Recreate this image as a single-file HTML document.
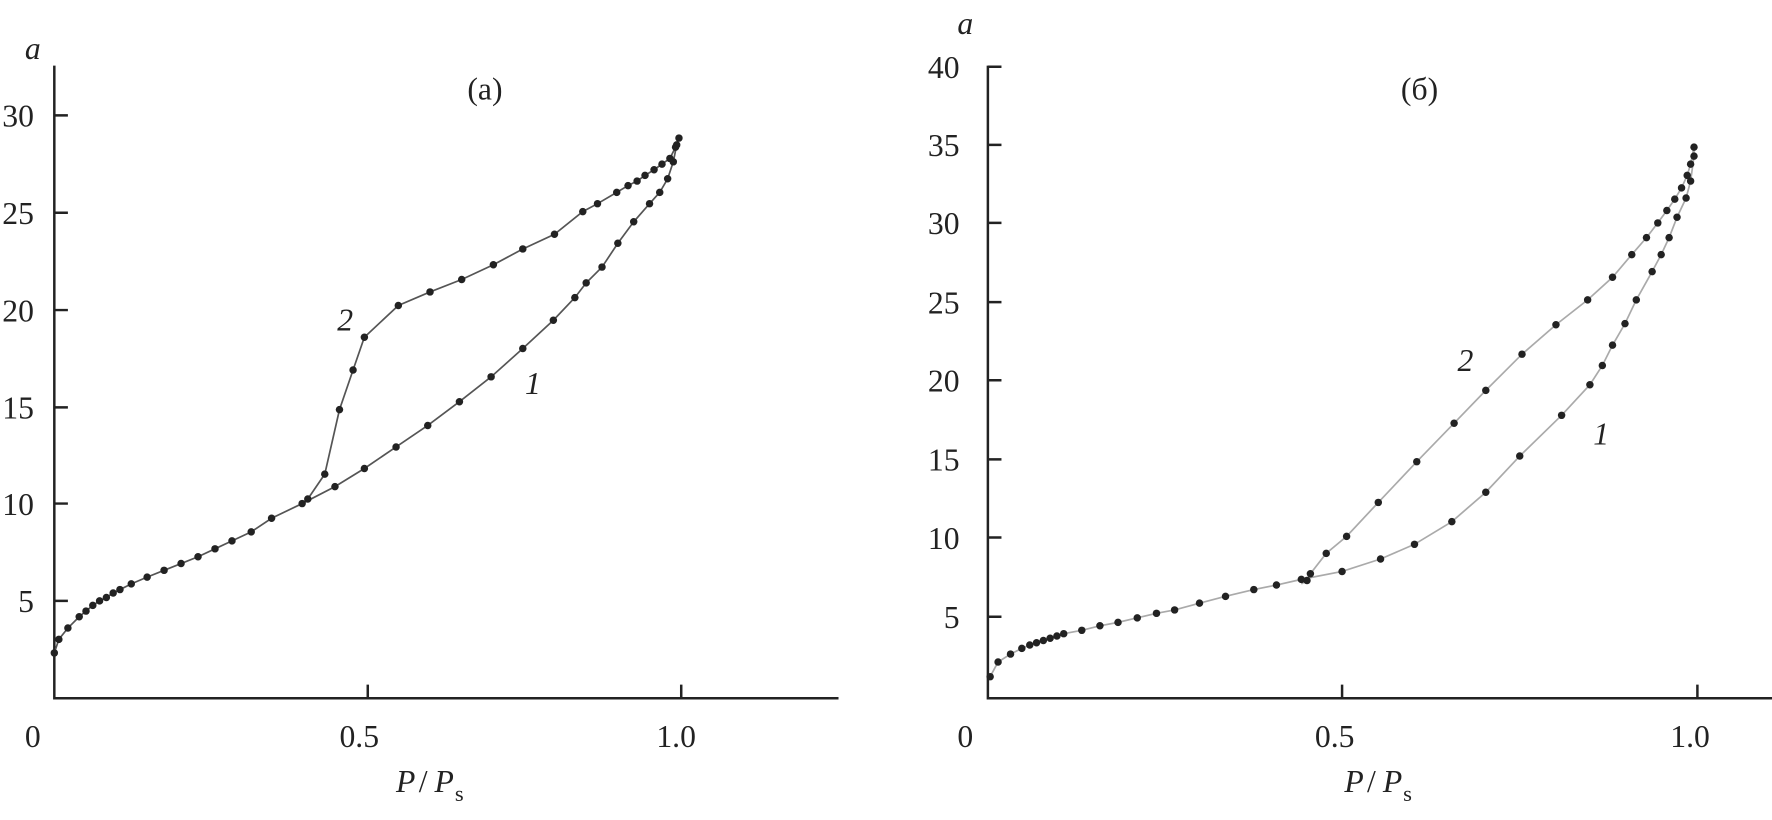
<!DOCTYPE html>
<html><head><meta charset="utf-8"><style>
body{margin:0;background:#fff}
svg text{font-family:"Liberation Serif",serif;fill:#222}
</style></head><body>
<svg width="1772" height="815" xmlns="http://www.w3.org/2000/svg">
<g transform="scale(1.1316)">
<g stroke="#222" stroke-width="2.2" fill="none">
<path d="M48 58 V617 H741"/>
<path d="M48 102 h12 M48 188 h12 M48 274 h12 M48 360 h12 M48 445 h12 M48 531 h12 M325 617 v-12 M602 617 v-12"/>
<path d="M873 58 V617 H1580"/>
<path d="M873 59 h12 M873 128 h12 M873 197 h12 M873 267 h12 M873 336 h12 M873 406 h12 M873 475 h12 M873 545 h12 M1186 617 v-12 M1500 617 v-12"/>
</g>
<g font-size="28">
<text x="22" y="52" font-style="italic">a</text>
<text x="2" y="112">30</text><text x="2" y="198">25</text><text x="2" y="284">20</text><text x="2" y="370">15</text><text x="2" y="455">10</text><text x="16" y="541">5</text>
<text x="22" y="660">0</text><text x="300" y="660">0.5</text><text x="580" y="660">1.0</text>
<text x="350" y="700" font-style="italic">P</text><text x="370" y="700">/</text><text x="384" y="700" font-style="italic">P</text><text x="402" y="708" font-size="20">s</text>
<text x="413" y="88">(a)</text>
<text x="298" y="292" font-style="italic">2</text><text x="464" y="348" font-style="italic">1</text>
<text x="846" y="30" font-style="italic">a</text>
<text x="820" y="69">40</text><text x="820" y="138">35</text><text x="820" y="207">30</text><text x="820" y="277">25</text><text x="820" y="346">20</text><text x="820" y="416">15</text><text x="820" y="485">10</text><text x="834" y="555">5</text>
<text x="846" y="660">0</text><text x="1162" y="660">0.5</text><text x="1476" y="660">1.0</text>
<text x="1188" y="700" font-style="italic">P</text><text x="1208" y="700">/</text><text x="1222" y="700" font-style="italic">P</text><text x="1240" y="708" font-size="20">s</text>
<text x="1238" y="88">(б)</text>
<text x="1288" y="328" font-style="italic">2</text><text x="1408" y="393" font-style="italic">1</text>
</g>
<g fill="none" stroke="#555" stroke-width="1.5">
<polyline points="48,577 52,565 60,555 70,545 76,540 82,535 88,531 94,528 100,524 106,521 116,516 130,510 145,504 160,498 175,492 190,485 205,478 222,470 240,458 267,445 296,430 322,414 350,395 378,376 406,355 434,333 462,308 489,283 508,263 518,250 532,236 546,215 560,196 574,180 583,170 590,158 595,143 598,128 600,122"/>
<polyline points="600,122 597,130 592,140 585,145 578,150 570,155 563,160 555,164 545,170 528,180 515,187 490,207 462,220 436,234 408,247 380,258 352,270 322,298 312,327 300,362 287,419 272,441 267,445"/>
</g>
<g fill="none" stroke="#aaa" stroke-width="1.5">
<polyline points="875,598 882,585 893,578 903,573 910,570 916,568 922,566 928,564 934,562 940,560 956,557 972,553 988,550 1005,546 1022,542 1038,539 1060,533 1083,527 1108,521 1128,517 1150,512 1186,505 1220,494 1250,481 1283,461 1313,435 1343,403 1380,367 1405,340 1416,323 1425,305 1436,286 1446,265 1460,240 1468,225 1475,210 1482,192 1490,175 1494,160 1497,138 1497,130"/>
<polyline points="1497,130 1494,145 1491,155 1486,166 1480,176 1473,186 1465,197 1455,210 1442,225 1425,245 1403,265 1375,287 1345,313 1313,345 1285,374 1252,408 1218,444 1190,474 1172,489 1158,507 1155,513 1150,516"/>
</g>
<g fill="#222">
<circle cx="48" cy="577" r="3.3"/><circle cx="52" cy="565" r="3.3"/><circle cx="60" cy="555" r="3.3"/><circle cx="70" cy="545" r="3.3"/><circle cx="76" cy="540" r="3.3"/><circle cx="82" cy="535" r="3.3"/><circle cx="88" cy="531" r="3.3"/><circle cx="94" cy="528" r="3.3"/><circle cx="100" cy="524" r="3.3"/><circle cx="106" cy="521" r="3.3"/><circle cx="116" cy="516" r="3.3"/><circle cx="130" cy="510" r="3.3"/><circle cx="145" cy="504" r="3.3"/><circle cx="160" cy="498" r="3.3"/><circle cx="175" cy="492" r="3.3"/><circle cx="190" cy="485" r="3.3"/><circle cx="205" cy="478" r="3.3"/><circle cx="222" cy="470" r="3.3"/><circle cx="240" cy="458" r="3.3"/><circle cx="267" cy="445" r="3.3"/><circle cx="296" cy="430" r="3.3"/><circle cx="322" cy="414" r="3.3"/><circle cx="350" cy="395" r="3.3"/><circle cx="378" cy="376" r="3.3"/><circle cx="406" cy="355" r="3.3"/><circle cx="434" cy="333" r="3.3"/><circle cx="462" cy="308" r="3.3"/><circle cx="489" cy="283" r="3.3"/><circle cx="508" cy="263" r="3.3"/><circle cx="518" cy="250" r="3.3"/><circle cx="532" cy="236" r="3.3"/><circle cx="546" cy="215" r="3.3"/><circle cx="560" cy="196" r="3.3"/><circle cx="574" cy="180" r="3.3"/><circle cx="583" cy="170" r="3.3"/><circle cx="590" cy="158" r="3.3"/><circle cx="595" cy="143" r="3.3"/><circle cx="598" cy="128" r="3.3"/><circle cx="600" cy="122" r="3.3"/>
<circle cx="597" cy="130" r="3.3"/><circle cx="592" cy="140" r="3.3"/><circle cx="585" cy="145" r="3.3"/><circle cx="578" cy="150" r="3.3"/><circle cx="570" cy="155" r="3.3"/><circle cx="563" cy="160" r="3.3"/><circle cx="555" cy="164" r="3.3"/><circle cx="545" cy="170" r="3.3"/><circle cx="528" cy="180" r="3.3"/><circle cx="515" cy="187" r="3.3"/><circle cx="490" cy="207" r="3.3"/><circle cx="462" cy="220" r="3.3"/><circle cx="436" cy="234" r="3.3"/><circle cx="408" cy="247" r="3.3"/><circle cx="380" cy="258" r="3.3"/><circle cx="352" cy="270" r="3.3"/><circle cx="322" cy="298" r="3.3"/><circle cx="312" cy="327" r="3.3"/><circle cx="300" cy="362" r="3.3"/><circle cx="287" cy="419" r="3.3"/><circle cx="272" cy="441" r="3.3"/>
<circle cx="875" cy="598" r="3.3"/><circle cx="882" cy="585" r="3.3"/><circle cx="893" cy="578" r="3.3"/><circle cx="903" cy="573" r="3.3"/><circle cx="910" cy="570" r="3.3"/><circle cx="916" cy="568" r="3.3"/><circle cx="922" cy="566" r="3.3"/><circle cx="928" cy="564" r="3.3"/><circle cx="934" cy="562" r="3.3"/><circle cx="940" cy="560" r="3.3"/><circle cx="956" cy="557" r="3.3"/><circle cx="972" cy="553" r="3.3"/><circle cx="988" cy="550" r="3.3"/><circle cx="1005" cy="546" r="3.3"/><circle cx="1022" cy="542" r="3.3"/><circle cx="1038" cy="539" r="3.3"/><circle cx="1060" cy="533" r="3.3"/><circle cx="1083" cy="527" r="3.3"/><circle cx="1108" cy="521" r="3.3"/><circle cx="1128" cy="517" r="3.3"/><circle cx="1150" cy="512" r="3.3"/><circle cx="1186" cy="505" r="3.3"/><circle cx="1220" cy="494" r="3.3"/><circle cx="1250" cy="481" r="3.3"/><circle cx="1283" cy="461" r="3.3"/><circle cx="1313" cy="435" r="3.3"/><circle cx="1343" cy="403" r="3.3"/><circle cx="1380" cy="367" r="3.3"/><circle cx="1405" cy="340" r="3.3"/><circle cx="1416" cy="323" r="3.3"/><circle cx="1425" cy="305" r="3.3"/><circle cx="1436" cy="286" r="3.3"/><circle cx="1446" cy="265" r="3.3"/><circle cx="1460" cy="240" r="3.3"/><circle cx="1468" cy="225" r="3.3"/><circle cx="1475" cy="210" r="3.3"/><circle cx="1482" cy="192" r="3.3"/><circle cx="1490" cy="175" r="3.3"/><circle cx="1494" cy="160" r="3.3"/><circle cx="1497" cy="138" r="3.3"/><circle cx="1497" cy="130" r="3.3"/>
<circle cx="1494" cy="145" r="3.3"/><circle cx="1491" cy="155" r="3.3"/><circle cx="1486" cy="166" r="3.3"/><circle cx="1480" cy="176" r="3.3"/><circle cx="1473" cy="186" r="3.3"/><circle cx="1465" cy="197" r="3.3"/><circle cx="1455" cy="210" r="3.3"/><circle cx="1442" cy="225" r="3.3"/><circle cx="1425" cy="245" r="3.3"/><circle cx="1403" cy="265" r="3.3"/><circle cx="1375" cy="287" r="3.3"/><circle cx="1345" cy="313" r="3.3"/><circle cx="1313" cy="345" r="3.3"/><circle cx="1285" cy="374" r="3.3"/><circle cx="1252" cy="408" r="3.3"/><circle cx="1218" cy="444" r="3.3"/><circle cx="1190" cy="474" r="3.3"/><circle cx="1172" cy="489" r="3.3"/><circle cx="1158" cy="507" r="3.3"/><circle cx="1155" cy="513" r="3.3"/>
</g>
</g>
</svg>
</body></html>
